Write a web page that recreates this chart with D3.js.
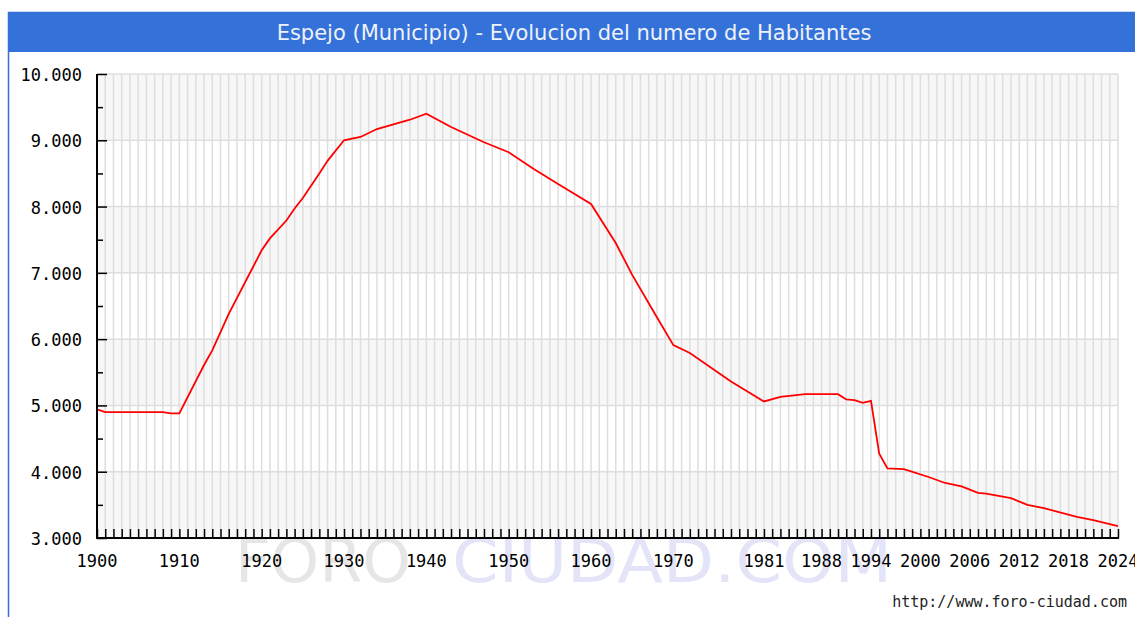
<!DOCTYPE html>
<html>
<head>
<meta charset="utf-8">
<script src="https://cdn.jsdelivr.net/npm/d3@7"></script>
<style>
	body { margin: 0; background: #fff; }
	svg { display: block; }
</style>
</head>
<body>
<div id="chart"></div>
<script>
// Espejo - habitantes por ano
var years = [1900, 1901, 1908, 1909, 1910, 1913, 1914, 1916, 1920, 1921, 1923, 1924, 1925, 1927, 1928,
	1930, 1932, 1934, 1936, 1938, 1940, 1943, 1947, 1950, 1953, 1956, 1960, 1963, 1965, 1968, 1970,
	1972, 1977, 1981, 1983, 1986, 1990, 1991, 1992, 1993, 1994, 1995, 1996, 1998, 2001, 2003, 2005,
	2007, 2008, 2011, 2013, 2015, 2019, 2021, 2024];
var habitantes = [4940, 4900, 4900, 4880, 4880, 5610, 5830, 6380, 7340, 7520, 7790, 7970, 8130, 8500, 8690,
	9000, 9050, 9170, 9240, 9310, 9400, 9200, 8970, 8820, 8570, 8340, 8040, 7450, 6970, 6330, 5910,
	5790, 5360, 5060, 5130, 5170, 5170, 5090, 5080, 5040, 5070, 4270, 4050, 4040, 3920, 3830, 3780,
	3680, 3670, 3600, 3500, 3450, 3320, 3270, 3180];
var xLabels = [1900, 1910, 1920, 1930, 1940, 1950, 1960, 1970, 1981, 1988, 1994, 2000, 2006, 2012, 2018, 2024];
var yTicks = [3000, 4000, 5000, 6000, 7000, 8000, 9000, 10000];

var titulo = "Espejo (Municipio) - Evolucion del numero de Habitantes";
var web = "http://www.foro-ciudad.com";

var W = 1135, H = 617;
var blue = "#3471d8";
var mono = "'DejaVu Sans Mono', 'Liberation Mono', monospace";

var svg = d3.select("#chart").append("svg")
	.attr("width", W).attr("height", H);

// frame + title bar
svg.append("rect").attr("x", 8.5).attr("y", 12.5).attr("width", W).attr("height", H)
	.attr("fill", "#fff").attr("stroke", blue).attr("stroke-width", 1.5);
svg.append("rect").attr("x", 8).attr("y", 12).attr("width", W).attr("height", 40)
	.attr("fill", blue);
svg.append("text").attr("x", 574).attr("y", 40)
	.attr("text-anchor", "middle")
	.attr("font-family", "'DejaVu Sans', Verdana, sans-serif")
	.attr("font-size", "21px")
	.attr("fill", "#eef2fb")
	.text(titulo);

var x = d3.scaleLinear().domain([1900, 2024]).range([97, 1118]);
var y = d3.scaleLinear().domain([3000, 10000]).range([538, 74]);

// watermark (sits behind the axis labels, as in the original)
svg.append("text").attr("x", 235).attr("y", 582)
	.attr("font-family", "'DejaVu Sans', Verdana, sans-serif")
	.attr("font-size", "60px").attr("fill", "#e6e6e6")
	.attr("textLength", 176).attr("lengthAdjust", "spacingAndGlyphs")
	.text("FORO");
svg.append("text").attr("x", 452).attr("y", 582)
	.attr("font-family", "'DejaVu Sans', Verdana, sans-serif")
	.attr("font-size", "60px").attr("fill", "#e4e4f8")
	.attr("textLength", 440).attr("lengthAdjust", "spacingAndGlyphs")
	.text("CIUDAD.COM");

// alternating bands
var plot = svg.append("g");
plot.selectAll("rect.band").data(yTicks.slice(0, -1))
	.enter().append("rect")
	.attr("class", "band")
	.attr("x", x(1900)).attr("width", x(2024) - x(1900))
	.attr("y", function (d) { return y(d + 1000); })
	.attr("height", function (d) { return y(d) - y(d + 1000); })
	.attr("fill", function (d) { return ((d / 1000) % 2 == 1) ? "#f7f7f7" : "#fff"; });

// grid
plot.selectAll("line.vg").data(d3.range(1901, 2025))
	.enter().append("line").attr("class", "vg")
	.attr("x1", function (d) { return x(d); }).attr("x2", function (d) { return x(d); })
	.attr("y1", y(10000)).attr("y2", y(3000))
	.attr("stroke", "#dedede").attr("stroke-width", 1.5);
plot.selectAll("line.hg").data(yTicks.slice(1))
	.enter().append("line").attr("class", "hg")
	.attr("x1", x(1900)).attr("x2", x(2024))
	.attr("y1", function (d) { return y(d); }).attr("y2", function (d) { return y(d); })
	.attr("stroke", "#dedede").attr("stroke-width", 1.5);

// serie
var pts = years.map(function (yr, i) { return [yr, habitantes[i]]; });
plot.append("path").datum(pts)
	.attr("fill", "none").attr("stroke", "#ff0000").attr("stroke-width", 1.8)
	.attr("d", d3.line().x(function (d) { return x(d[0]); }).y(function (d) { return y(d[1]); }));

// y axis: ticks point inward
var yAxis = d3.axisRight(y).tickValues(d3.range(3000, 10001, 500))
	.tickSize(0).tickFormat("");
var gy = svg.append("g").attr("transform", "translate(" + x(1900) + ",0)").call(yAxis);
gy.select(".domain").remove();
gy.selectAll(".tick line").attr("x2", function (d) { return d % 1000 == 0 ? 10 : 6; })
	.attr("stroke", "#000").attr("stroke-width", 1.5);
svg.append("line").attr("x1", x(1900)).attr("x2", x(1900))
	.attr("y1", y(10000)).attr("y2", y(3000) + 1)
	.attr("stroke", "#000").attr("stroke-width", 2);
svg.selectAll("text.ylab").data(yTicks)
	.enter().append("text").attr("class", "ylab")
	.attr("x", 82).attr("y", function (d) { return y(d) + 7; })
	.attr("text-anchor", "end")
	.attr("font-family", mono).attr("font-size", "17px").attr("fill", "#000")
	.text(function (d) { return d3.format(",")(d).replace(",", "."); });

// x axis: a tick every year, pointing up
var xAxis = d3.axisTop(x).tickValues(d3.range(1900, 2025)).tickSize(9).tickFormat("");
var gx = svg.append("g").attr("transform", "translate(0," + y(3000) + ")").call(xAxis);
gx.select(".domain").remove();
gx.selectAll(".tick line").attr("stroke", "#000").attr("stroke-width", 1.5);
svg.append("line").attr("x1", x(1900) - 1).attr("x2", x(2024) + 1)
	.attr("y1", y(3000)).attr("y2", y(3000))
	.attr("stroke", "#000").attr("stroke-width", 2);
svg.selectAll("text.xlab").data(xLabels)
	.enter().append("text").attr("class", "xlab")
	.attr("x", function (d) { return x(d); }).attr("y", 567)
	.attr("text-anchor", "middle")
	.attr("font-family", mono).attr("font-size", "17px").attr("fill", "#000")
	.text(function (d) { return d; });

// footer
svg.append("text").attr("x", 1127).attr("y", 607)
	.attr("text-anchor", "end")
	.attr("font-family", mono).attr("font-size", "15px").attr("fill", "#222")
	.text(web);
</script>
</body>
</html>
